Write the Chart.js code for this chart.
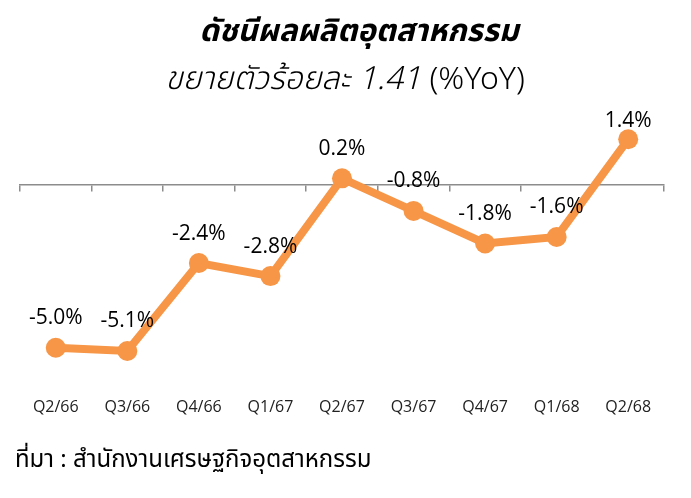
<!DOCTYPE html>
<html>
<head>
	<title>ดัชนีผลผลิตอุตสาหกรรม</title>
	<style>
		body { margin: 0; background: #fff; }
		#wrap { position: relative; width: 691px; height: 498px; font-family: "Noto Sans Thai", "Noto Sans", "DejaVu Sans", sans-serif; }
		#wrap canvas { position: absolute; left: 0; top: 0; }
		.title { position: absolute; width: 670px; text-align: center; color: #000; white-space: nowrap; }
		#t1 { left: 24px; top: 8px; font-size: 31px; font-weight: bold; font-style: italic; }
		#t2 { left: 10px; top: 55px; font-size: 32px; font-style: italic; font-weight: 300; }
		#t2 span { font-style: normal; }
		#src { position: absolute; left: 15px; top: 442px; font-size: 24px; color: #000; white-space: nowrap; }
	</style>
</head>
<body>
	<div id="wrap">
		<canvas id="myChart" width="691" height="498"></canvas>
		<div class="title" id="t1">ดัชนีผลผลิตอุตสาหกรรม</div>
		<div class="title" id="t2">ขยายตัวร้อยละ 1.41 <span>(%YoY)</span></div>
		<div id="src">ที่มา : สำนักงานเศรษฐกิจอุตสาหกรรม</div>
	</div>

	<script src="https://cdn.jsdelivr.net/npm/chart.js@4/dist/chart.umd.min.js"></script>
	<script type="text/javascript">

		// quarters (Thai Buddhist year)
		var quarters = ['Q2/66', 'Q3/66', 'Q4/66', 'Q1/67', 'Q2/67', 'Q3/67', 'Q4/67', 'Q1/68', 'Q2/68'];
		// industrial production index, %YoY
		var yoyValues = [-5.0, -5.1, -2.4, -2.8, 0.2, -0.8, -1.8, -1.6, 1.4];

		var orange = '#F79646';
		var axisGray = '#8c8c8c';

		// writes the value above each point
		var pointLabels = {
			id: 'pointLabels',
			afterDatasetsDraw: function (chart) {
				var ctx = chart.ctx;
				var meta = chart.getDatasetMeta(0);
				ctx.save();
				ctx.font = '21px "Open Sans", "Noto Sans", sans-serif';
				ctx.fillStyle = '#000';
				ctx.textAlign = 'center';
				ctx.textBaseline = 'bottom';
				meta.data.forEach(function (pt, i) {
					var y = Math.max(pt.y - 19, chart.chartArea.top + 9);
					ctx.fillText(yoyValues[i].toFixed(1) + '%', pt.x, y);
				});
				ctx.restore();
			}
		};

		var lineChart = new Chart('myChart', {
			type: 'line',
			data: {
				labels: quarters,
				datasets: [{
					data: yoyValues,
					borderColor: orange,
					backgroundColor: orange,
					borderWidth: 8,
					pointRadius: 10,
					pointHoverRadius: 10,
					pointBorderWidth: 0,
					tension: 0
				}]
			},
			options: {
				responsive: false,
				animation: false,
				layout: { padding: { top: 123, left: 20, right: 27, bottom: 70 } },
				plugins: {
					legend: { display: false },
					tooltip: { enabled: false }
				},
				scales: {
					x: {
						offset: true,
						grid: { display: false, drawTicks: false },
						border: { display: false },
						ticks: {
							padding: 11,
							color: '#222',
							font: { family: '"Open Sans", "Noto Sans", sans-serif', size: 16 }
						}
					},
					// zero line with tick marks between the quarters
					x2: {
						type: 'category',
						position: { y: 0 },
						offset: true,
						grid: { offset: true, drawOnChartArea: false, drawTicks: true, tickLength: 6, color: axisGray, lineWidth: 1.5 },
						border: { display: true, color: axisGray, width: 1.5 },
						ticks: { display: false }
					},
					y: {
						display: false,
						min: -6.2,
						max: 1.9
					}
				}
			},
			plugins: [pointLabels]
		});

	</script>
</body>
</html>
